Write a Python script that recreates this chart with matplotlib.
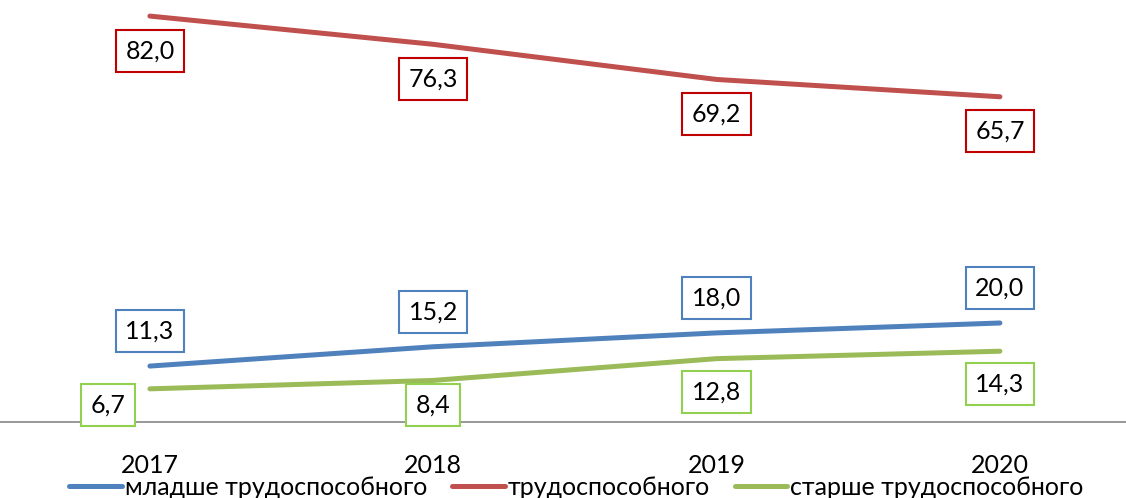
import matplotlib
matplotlib.use('Agg')
from matplotlib import pyplot as plt

years = ['2017', '2018', '2019', '2020']
younger = [11.3, 15.2, 18.0, 20.0]
working = [82.0, 76.3, 69.2, 65.7]
older = [6.7, 8.4, 12.8, 14.3]
names = ['младше трудоспособного', 'трудоспособного', 'старше трудоспособного']

plt.rcParams['font.family'] = ['Lato', 'DejaVu Sans']
FS = 18

fig = plt.figure(figsize=(11.26, 4.98), dpi=100)
ax = fig.add_axes([0, 0.1526, 1, 0.8474])

x = list(range(len(years)))
line_cols = ['#4F81BD', '#C0504D', '#9BBB59']
box_cols = ['#4F81BD', '#C00000', '#92D050']

for vals, name, lc in zip([younger, working, older], names, line_cols):
    ax.plot(x, vals, color=lc, lw=3.6, solid_capstyle='round', label=name)


def put_label(xi, yi, text, ec):
    ax.text(xi, yi, text, fontsize=FS, ha='center', va='center', zorder=5,
            bbox=dict(boxstyle='square,pad=0.38', fc='white', ec=ec, lw=1.5))


for i in x:
    put_label(i, younger[i] + 7.0, str(younger[i]).replace('.', ','), box_cols[0])
    put_label(i, working[i] - 7.0, str(working[i]).replace('.', ','), box_cols[1])
    gy = max(older[i] - 6.7, 3.4)
    gx = i - 0.148 if i == 0 else i
    put_label(gx, gy, str(older[i]).replace('.', ','), box_cols[2])

ax.set_xlim(-0.529, 3.445)
ax.set_ylim(0, 85.25)
ax.set_xticks(x)
ax.set_xticklabels(years, fontsize=FS)
ax.tick_params(axis='x', length=0, pad=23)
ax.set_yticks([])
for s in ['top', 'left', 'right']:
    ax.spines[s].set_visible(False)
ax.spines['bottom'].set_color('#868686')
ax.spines['bottom'].set_linewidth(1.2)

fig.legend(loc='center', bbox_to_anchor=(0.512, 0.022), ncol=3, frameon=False,
           fontsize=FS, handlelength=2.1, handletextpad=0.12, columnspacing=1.0,
           borderaxespad=0, borderpad=0)

fig.savefig('out.png', dpi=100)
